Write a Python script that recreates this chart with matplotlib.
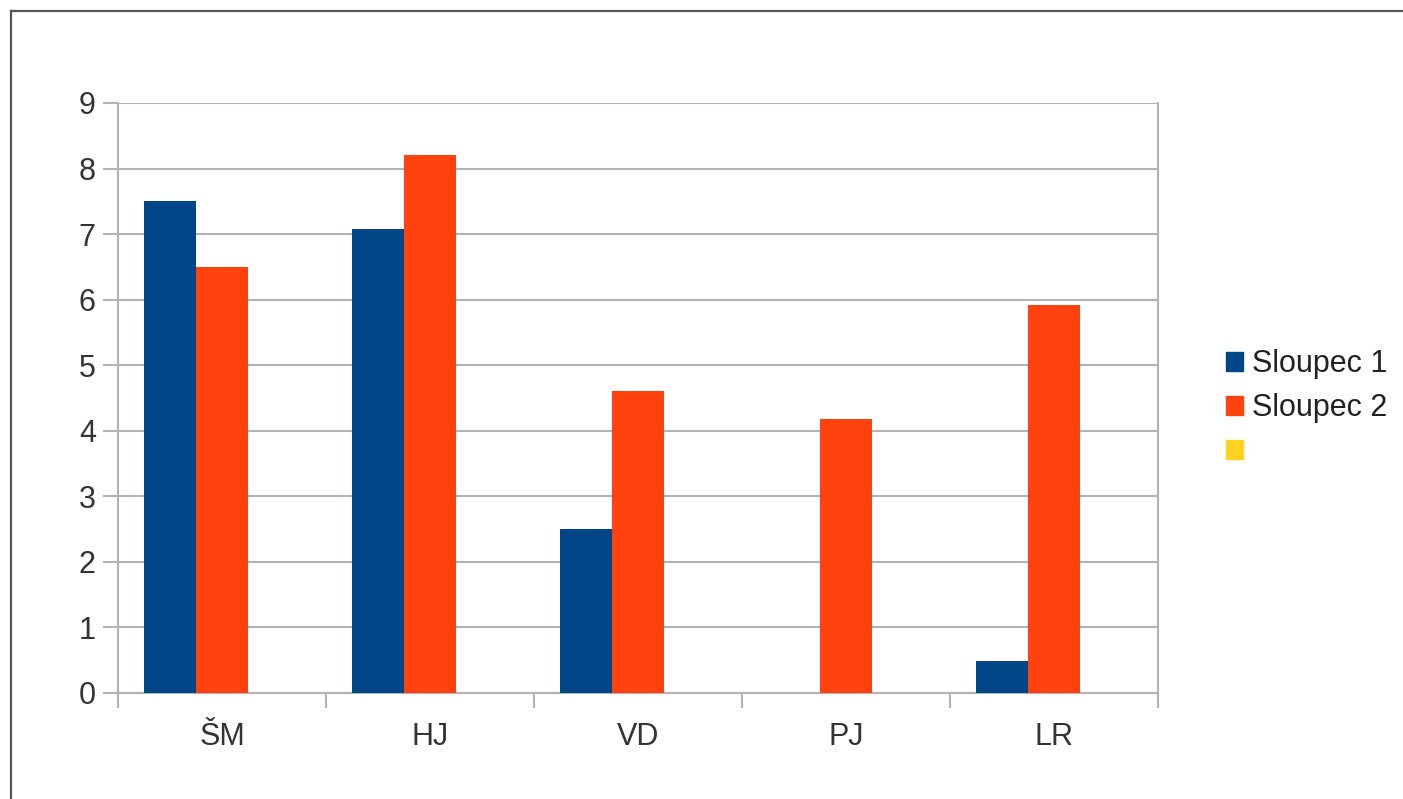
import numpy as np
import matplotlib.pyplot as plt
from matplotlib.lines import Line2D

plt.rcParams['font.family'] = ['Liberation Sans', 'DejaVu Sans']

categories = ['ŠM', 'HJ', 'VD', 'PJ', 'LR']
sloupec_1 = [7.5, 7.08, 2.5, 0.0, 0.49]
sloupec_2 = [6.5, 8.21, 4.61, 4.18, 5.92]
sloupec_3 = [np.nan, np.nan, np.nan, np.nan, np.nan]  # empty third column
series_names = ['Sloupec 1', 'Sloupec 2', '']
series_colors = ['#004586', '#ff420e', '#ffd320']

W, H = 1403, 799
fig = plt.figure(figsize=(W / 100, H / 100), dpi=100)
ax = fig.add_axes([118 / W, 1 - 693 / H, (1158 - 118) / W, (693 - 103) / H])

x = np.arange(len(categories))
width = 0.25
for i, (vals, name, col) in enumerate(zip([sloupec_1, sloupec_2, sloupec_3], series_names, series_colors)):
    ax.bar(x + 0.25 * (i + 1), vals, width, color=col, label=name, zorder=3)

grid_col = '#b3b3b3'
ax.set_xlim(0, len(categories))
ax.set_ylim(0, 9)
ax.set_yticks(range(0, 10))
ax.yaxis.grid(True, color=grid_col, linewidth=1.5, zorder=0)

ax.set_xticks(np.arange(len(categories) + 1))
ax.set_xticklabels([])
ax.set_xticks(x + 0.5, minor=True)
ax.set_xticklabels(categories, minor=True)
ax.tick_params(axis='x', which='minor', length=0, pad=21, labelsize=22, labelcolor='#333333')
ax.tick_params(axis='x', which='major', length=11, width=1.5, color=grid_col)
ax.tick_params(axis='y', length=11, width=1.5, color=grid_col, pad=5, labelsize=22, labelcolor='#333333')

for side in ['left', 'right', 'bottom']:
    ax.spines[side].set_color(grid_col)
    ax.spines[side].set_linewidth(1.5)
ax.spines['top'].set_visible(False)

handles = [plt.Rectangle((0, 0), 1, 1, color=c) for c in series_colors]
fig.legend(handles, series_names, loc='upper left', bbox_to_anchor=(1211 / W, 1 - 334 / H),
           frameon=False, fontsize=22, handlelength=0.55, handleheight=0.55,
           handletextpad=0.3, labelspacing=0.46, borderpad=0, labelcolor='#222222')

# outer border (top and left only visible)
fig.add_artist(Line2D([10.5 / W, 10.5 / W], [0, 1 - 10.5 / H], transform=fig.transFigure,
                      color='#555555', linewidth=1.6))
fig.add_artist(Line2D([10.5 / W, 1], [1 - 10.5 / H, 1 - 10.5 / H], transform=fig.transFigure,
                      color='#555555', linewidth=1.6))

fig.savefig('out.png', dpi=100)
